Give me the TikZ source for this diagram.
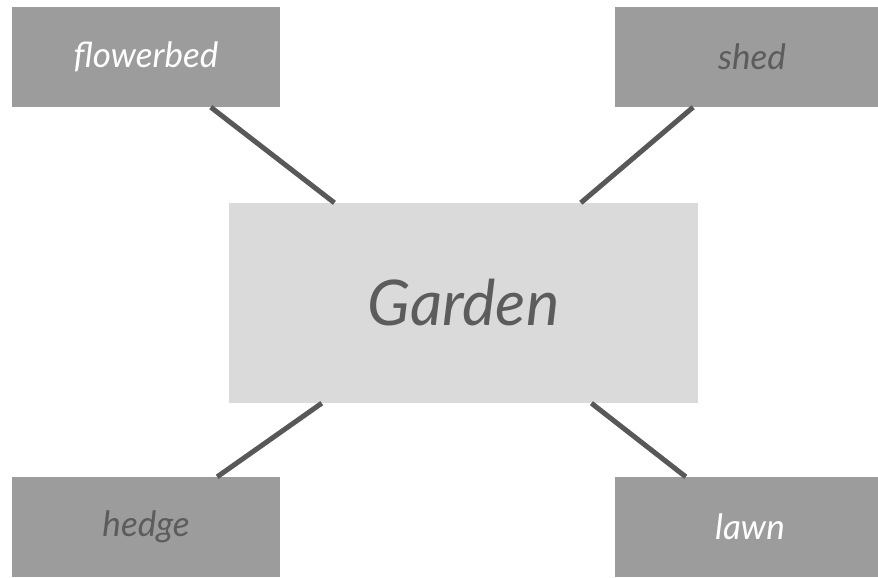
\documentclass[tikz,border=0pt]{standalone}
\usepackage{fontspec}
\setmainfont{Lato}
\usepackage{xcolor}
\usepackage{tikz}
\usetikzlibrary{positioning}
\definecolor{boxdark}{RGB}{156,156,156}
\definecolor{boxlight}{RGB}{218,218,218}
\definecolor{linkgrey}{RGB}{88,88,88}
\definecolor{inkgrey}{RGB}{92,92,92}
\begin{document}
\begin{tikzpicture}[x=1pt, y=-1pt,
    corner/.style={fill=boxdark, minimum height=100pt, inner sep=0pt,
      font=\fontsize{35}{40}\selectfont\itshape},
    hub/.style={fill=boxlight, minimum width=469pt, minimum height=200pt, inner sep=0pt,
      text=inkgrey, font=\fontsize{63}{72}\selectfont\itshape},
    link/.style={draw=linkgrey, line width=5pt}]
  \useasboundingbox (0,0) rectangle (878,578);
  \node[hub] (garden) at (463.5,303) {Garden};
  \node[corner, minimum width=268pt, text=white] (flowerbed) at (146,57) {flowerbed};
  \node[corner, minimum width=274pt, text=inkgrey] (shed) at (752,57) {shed};
  \node[corner, minimum width=268pt, text=inkgrey] (hedge) at (146,527) {hedge};
  \node[corner, minimum width=270pt, text=white] (lawn) at (750,527) {lawn};
  % links to the hub
  \draw[link] (flowerbed) -- (garden);
  \draw[link] (shed) -- (garden);
  \draw[link] (hedge) -- (garden);
  \draw[link] (lawn) -- (garden);
\end{tikzpicture}
\end{document}
